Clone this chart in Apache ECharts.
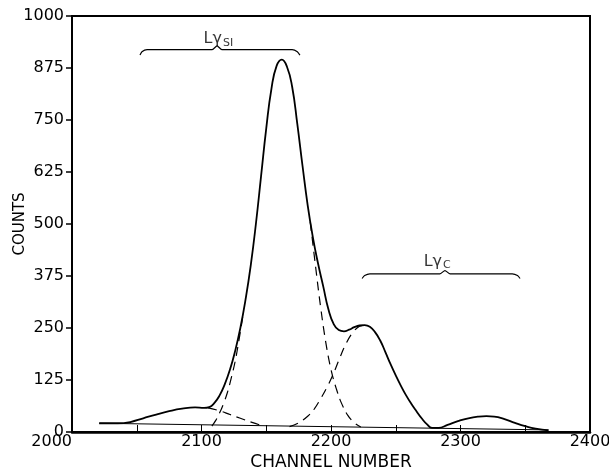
<!DOCTYPE html>
<html>
<head>
<meta charset="utf-8">
<script src="https://cdn.jsdelivr.net/npm/echarts@6/dist/echarts.min.js"></script>
<style>html,body{margin:0;padding:0;background:#fff}#c{width:609px;height:474px}</style>
</head>
<body>
<div id="c"></div>
<script>
// Channel ticks / count ticks
const xTicks = [2000, 2100, 2200, 2300, 2400];
const yTicks = [0, 125, 250, 375, 500, 625, 750, 875, 1000];

// Total fitted spectrum (solid)
const totalX = [2021, 2035, 2045, 2055, 2065, 2075, 2085, 2095, 2102, 2106, 2110, 2114, 2118, 2122, 2126, 2130, 2134, 2138, 2142, 2146, 2150, 2154, 2158, 2162, 2166, 2170, 2174, 2178, 2182, 2186, 2190, 2194, 2198, 2202, 2206, 2210, 2214, 2218, 2222, 2226, 2230, 2234, 2238, 2242, 2246, 2250, 2254, 2258, 2262, 2266, 2270, 2274, 2278, 2283, 2290, 2298, 2306, 2314, 2320, 2326, 2334, 2342, 2350, 2358, 2368];
const totalY = [21, 21, 24, 33, 42, 50, 56, 59, 58, 60, 70, 88, 115, 150, 195, 250, 318, 400, 500, 615, 730, 825, 880, 895, 878, 830, 740, 640, 545, 468, 405, 350, 295, 260, 245, 242, 246, 252, 256, 257, 253, 240, 220, 192, 163, 136, 111, 88, 68, 50, 33, 19, 10, 10, 17, 26, 33, 37, 38, 37, 31, 22, 14, 8, 4];

// Sloping background (thin solid)
const bgX = [2021, 2368];
const bgY = [21, 5];

// Left small component tail (dashed)
const lowX = [2105, 2114, 2122, 2130, 2139, 2148];
const lowY = [58, 51, 42, 33, 23, 14];

// Lγ Si component (dashed) – left and right flanks
const siX = [2108, 2111, 2114, 2117, 2120, 2123, 2126, 2129, 2132, null, 2184, 2188, 2192, 2196, 2200, 2204, 2208, 2213, 2218, 2223];
const siY = [14, 28, 46, 68, 95, 130, 170, 222, 280, null, 505, 400, 300, 215, 150, 105, 70, 40, 22, 12];

// Lγ C component (dashed)
const cX = [2168, 2175, 2182, 2187, 2192, 2197, 2202, 2207, 2212, 2217, 2222, 2226];
const cY = [13, 22, 38, 55, 80, 108, 141, 180, 215, 240, 254, 257];

// Braces
const braceSiX = [2052.5, 2054, 2058, 2108, 2112, 2116, 2170, 2174, 2176];
const braceSiY = [906, 914, 919, 919, 928, 919, 919, 914, 906];
const braceCX = [2224, 2226, 2230, 2284, 2288, 2292, 2340, 2344, 2346];
const braceCY = [369, 376, 380, 380, 388, 380, 380, 376, 369];

// Labels
const labelText = ['Lγ{s|SI}', 'Lγ{s|C}'];
const labelX = [2113, 2282];
const labelY = [944, 410];

const zip = (xs, ys) => xs.map((x, i) => x === null ? [null, null] : [x, ys[i]]);

const chart = echarts.init(document.getElementById('c'));
const font = 'DejaVu Sans';
const dash = { color: '#000', width: 1.2, type: [9, 6] };
chart.setOption({
  animation: false,
  grid: { left: 72, right: 19, top: 16, bottom: 42, outerBoundsMode: 'none', containLabel: false,
    show: true, borderColor: '#000', borderWidth: 2, backgroundColor: 'transparent' },
  xAxis: {
    type: 'value', min: 2000, max: 2400, interval: 50,
    name: 'CHANNEL NUMBER', nameLocation: 'middle', nameGap: 22, nameMoveOverlap: false,
    nameTextStyle: { color: '#000', fontSize: 17, fontFamily: font },
    axisLine: { show: true, lineStyle: { color: '#000', width: 2.5 } },
    axisTick: { show: true, inside: true, length: 7, lineStyle: { color: '#000', width: 1 } },
    axisLabel: { color: '#000', fontSize: 16, fontFamily: font, margin: 2,
      formatter: v => xTicks.includes(v) ? String(v) : '', alignMinLabel: 'right' },
    splitLine: { show: false }
  },
  yAxis: {
    type: 'value', min: 0, max: 1000, interval: 125,
    name: 'COUNTS', nameLocation: 'middle', nameGap: 44, nameMoveOverlap: false,
    nameTextStyle: { color: '#000', fontSize: 15, fontFamily: font },
    axisLine: { show: true, lineStyle: { color: '#000', width: 2 } },
    axisTick: { show: true, inside: false, length: 6, lineStyle: { color: '#000', width: 1.5 } },
    axisLabel: { color: '#000', fontSize: 16, fontFamily: font, margin: 8,
      formatter: v => yTicks.includes(v) ? String(v) : '' },
    splitLine: { show: false }
  },
  series: [
    { type: 'line', data: zip(bgX, bgY), symbol: 'none', lineStyle: { color: '#000', width: 1 } },
    { type: 'line', data: zip(lowX, lowY), symbol: 'none', smooth: 0.4, lineStyle: dash },
    { type: 'line', data: zip(siX, siY), symbol: 'none', smooth: 0.4, connectNulls: false, lineStyle: dash },
    { type: 'line', data: zip(cX, cY), symbol: 'none', smooth: 0.4, lineStyle: dash },
    { type: 'line', data: zip(totalX, totalY), symbol: 'none', smooth: 0.5, lineStyle: { color: '#000', width: 1.8 } },
    { type: 'line', data: zip(braceSiX, braceSiY), symbol: 'none', smooth: 0.2, lineStyle: { color: '#000', width: 1.2 } },
    { type: 'line', data: zip(braceCX, braceCY), symbol: 'none', smooth: 0.2, lineStyle: { color: '#000', width: 1.2 } },
    { type: 'scatter', symbolSize: 0, silent: true,
      data: labelX.map((x, i) => ({ value: [x, labelY[i]], label: { show: true, position: 'inside', formatter: labelText[i],
        color: '#000', fontSize: 16, fontFamily: font,
        rich: { s: { fontSize: 11, fontFamily: font, color: '#000', verticalAlign: 'bottom', padding: [8, 0, 0, 1] } } } })) }
  ]
});
</script>
</body>
</html>
